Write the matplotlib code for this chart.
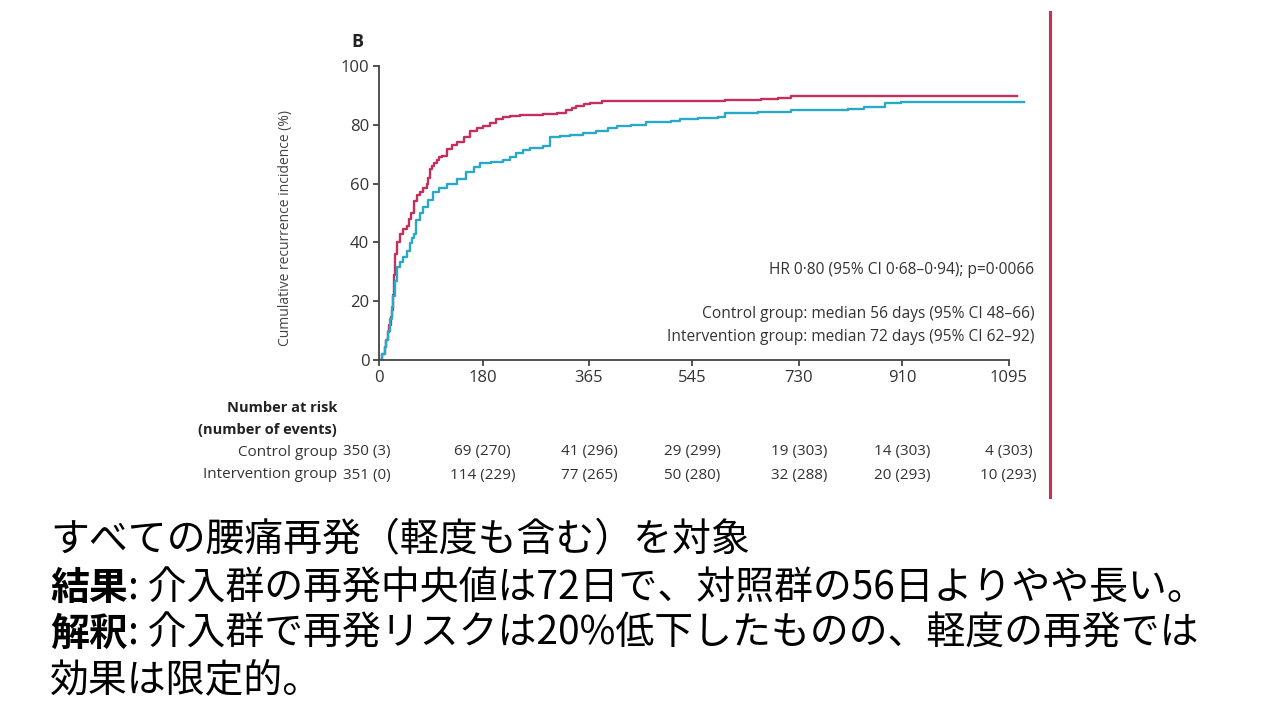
import matplotlib
matplotlib.use('Agg')
import matplotlib.pyplot as plt

# ===== DATA

control_days = [0, 5, 10, 13, 16, 18, 20, 22, 24, 26, 28, 32, 36, 42, 48, 52, 55, 60, 66, 71, 77,
                83, 86, 89, 92, 95, 100, 105, 110, 118, 127, 135, 147, 158, 170, 181, 193, 204,
                216, 228, 245, 262, 285, 309, 326, 335, 343, 356, 367, 387, 601, 665, 694, 717, 1110]
control_pct = [0, 2, 4.5, 6.8, 9.5, 12, 14.5, 17, 22, 29, 36, 40, 43, 44.5, 45.5, 48, 50, 54, 56,
               57, 58.5, 60, 62, 65, 66, 67, 68, 69, 69.5, 71.6, 73, 74, 76, 78, 79, 79.5, 80.5,
               82, 82.5, 83, 83.3, 83.5, 83.8, 84, 85, 85.8, 86.4, 87, 87.5, 88.2, 88.5, 88.8,
               89.2, 89.7, 89.7]

interv_days = [0, 5, 10, 13, 16, 19, 22, 25, 28, 31, 36, 42, 48, 54, 57, 60, 65, 71, 77, 85, 94,
               105, 118, 135, 152, 165, 176, 195, 216, 228, 239, 250, 262, 286, 297, 315, 332,
               355, 378, 398, 413, 439, 465, 508, 523, 555, 590, 601, 659, 717, 815, 844, 879,
               908, 1122]
interv_pct = [0, 2, 4.5, 6.8, 10, 14, 18, 21.6, 27, 31.8, 33.5, 35, 37, 39.8, 41.5, 43, 47.7,
              50, 52, 54.5, 57, 58.5, 60, 61.4, 64, 65.5, 67, 67.5, 68, 69, 70.5, 71.3, 72, 72.7,
              76, 76.3, 76.7, 77.3, 78, 78.8, 79.5, 79.9, 81, 81.3, 82, 82.2, 82.8, 83.9, 84.5,
              85, 85.3, 86.2, 87.3, 87.9, 87.9]

x_ticks = [0, 180, 365, 545, 730, 910, 1095]
y_ticks = [0, 20, 40, 60, 80, 100]

risk_control = ['350 (3)', '69 (270)', '41 (296)', '29 (299)', '19 (303)', '14 (303)', '4 (303)']
risk_interv = ['351 (0)', '114 (229)', '77 (265)', '50 (280)', '32 (288)', '20 (293)', '10 (293)']

hr_text = 'HR 0·80 (95% CI 0·68–0·94); p=0·0066'
control_text = 'Control group: median 56 days (95% CI 48–66)'
interv_text = 'Intervention group: median 72 days (95% CI 62–92)'

jp_line1 = 'すべての腰痛再発（軽度も含む）を対象'
jp_line2 = ('結果', ': 介入群の再発中央値は72日で、対照群の56日よりやや長い。')
jp_line3 = ('解釈', ': 介入群で再発リスクは20%低下したものの、軽度の再発では')
jp_line4 = '効果は限定的。'

# ===== DISPLAY

RED = '#c52f5c'
CYAN = '#2aa8c8'
GREY = '#444444'
TXT = '#333333'
FONT = 'Open Sans'
JP = ['Noto Sans CJK JP', 'DejaVu Sans']

fig = plt.figure(figsize=(12.8, 7.2), dpi=100)
ax = fig.add_axes([379 / 1280, 0.5, (1026 - 379) / 1280, 294 / 720])

ax.step(control_days, control_pct, where='post', color=RED, lw=1.7)
ax.step(interv_days, interv_pct, where='post', color=CYAN, lw=1.7)

ax.set_xlim(0, 1125)
ax.set_ylim(0, 100)
ax.spines['top'].set_visible(False)
ax.spines['right'].set_visible(False)
ax.spines['bottom'].set_bounds(0, 1095)
for s in ('left', 'bottom'):
    ax.spines[s].set_color(GREY)
    ax.spines[s].set_linewidth(1.3)
ax.set_xticks(x_ticks)
ax.set_yticks(y_ticks)
ax.tick_params(colors=GREY, length=4, width=1.3, labelsize=12, pad=3)
for lab in ax.get_xticklabels() + ax.get_yticklabels():
    lab.set_family(FONT)
    lab.set_color(TXT)

fig.text(285 / 1280, 1 - 228 / 720, 'Cumulative recurrence incidence (%)', rotation=90,
         ha='center', va='center', fontsize=10, family=FONT, color=GREY)
fig.text(357 / 1280, 1 - 42 / 720, 'B', ha='center', va='center', fontsize=13,
         fontweight='bold', family=FONT, color='#222222')

for y, t in [(270, hr_text), (314, control_text), (337, interv_text)]:
    fig.text(1034 / 1280, 1 - y / 720, t, ha='right', va='center', fontsize=11.2,
             family=FONT, color=TXT)

# number at risk table
fig.text(337 / 1280, 1 - 408 / 720, 'Number at risk', ha='right', va='center',
         fontsize=10.5, fontweight='bold', family=FONT, color='#222222')
fig.text(337 / 1280, 1 - 430 / 720, '(number of events)', ha='right', va='center',
         fontsize=10.5, fontweight='bold', family=FONT, color='#222222')
trans = matplotlib.transforms.blended_transform_factory(ax.transData, fig.transFigure)
for y, name, row in [(452, 'Control group', risk_control), (475, 'Intervention group', risk_interv)]:
    fig.text(337 / 1280, 1 - y / 720, name, ha='right', va='center', fontsize=11,
             family=FONT, color=TXT)
    # first column sits just right of the row label
    fig.text(343 / 1280, 1 - y / 720, row[0], ha='left', va='center',
             fontsize=11, family=FONT, color=TXT)
    for xt, val in zip(x_ticks[1:], row[1:]):
        fig.text(xt, 1 - y / 720, val, transform=trans, ha='center', va='center',
                 fontsize=11, family=FONT, color=TXT)

# vertical rule at right
fig.add_artist(matplotlib.lines.Line2D([1050 / 1280] * 2, [1 - 12 / 720, 1 - 497 / 720],
                                       color=RED, lw=2.2))

# Japanese notes
JS = 28
fig.text(50 / 1280, 1 - 540 / 720, jp_line1, ha='left', va='center', fontsize=JS, family=JP)
for y, (b, rest) in [(588, jp_line2), (634, jp_line3)]:
    t = fig.text(50 / 1280, 1 - y / 720, b, ha='left', va='center', fontsize=JS,
                 family=JP, fontweight='bold')
    ax.annotate(rest, xy=(1, 0.5), xycoords=t, ha='left', va='center', fontsize=JS,
                family=JP, annotation_clip=False)
fig.text(50 / 1280, 1 - 680 / 720, jp_line4, ha='left', va='center', fontsize=JS, family=JP)

fig.savefig('out.png', dpi=100)
